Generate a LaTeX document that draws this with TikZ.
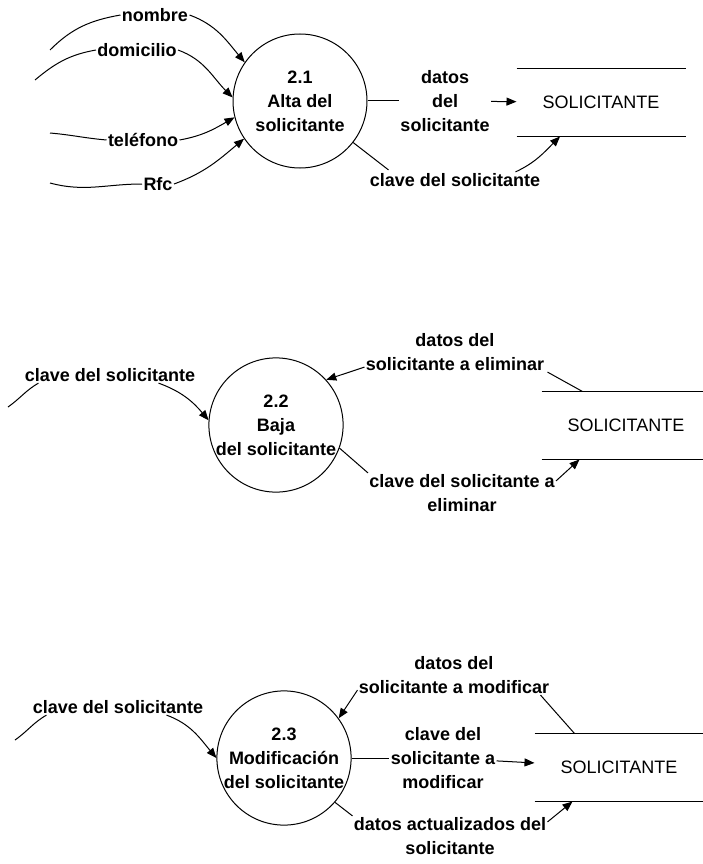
\documentclass[tikz,border=0pt]{standalone}
\usepackage{fontspec}
\setmainfont{Liberation Sans}
\usetikzlibrary{arrows.meta}

\begin{document}
\begin{tikzpicture}[
  x=1pt, y=1pt,
  line width=1pt,
  proc/.style={shape=circle, draw, minimum size=134pt, inner sep=0pt, align=center,
    font=\bfseries\fontsize{18}{24}\selectfont},
  lbl/.style={align=center, inner sep=1pt, font=\bfseries\fontsize{18}{24}\selectfont},
  store/.style={minimum width=168pt, minimum height=67pt, inner sep=0pt,
    font=\fontsize{18}{22}\selectfont},
  flow/.style={-{Triangle[length=10pt,width=8pt]}}
]
  \useasboundingbox (0,0) rectangle (702,-864);

  % 2.1 Alta
  \node[proc] (p1) at (300,-101) {2.1\\Alta del\\solicitante};
  \node[lbl] (nombre) at (155,-15) {nombre};
  \node[lbl] (domicilio) at (137,-50) {domicilio};
  \node[lbl] (telefono) at (143,-140) {teléfono};
  \node[lbl] (rfc) at (158,-184) {Rfc};
  \coordinate (a1) at (50,-50);
  \coordinate (a2) at (35,-80);
  \coordinate (a3) at (50,-133);
  \coordinate (a4) at (50,-183);
  \draw (a1) to[out=45,in=190] (nombre.west);
  \draw[flow] (nombre.east) to[out=-20,in=130] (p1.145);
  \draw (a2) to[out=40,in=190] (domicilio.west);
  \draw[flow] (domicilio.east) to[out=-20,in=135] (p1.177);
  \draw (a3) to[out=-5,in=175] (telefono.west);
  \draw[flow] (telefono.east) to[out=10,in=210] (p1.194);
  \draw (a4) to[out=-15,in=180] (rfc.west);
  \draw[flow] (rfc.east) to[out=20,in=220] (p1.214);

  \node[lbl] (d1) at (445,-101) {datos\\del\\solicitante};
  \node[store] (s1) at (601,-102.5) {SOLICITANTE};
  \draw (s1.north west) -- (s1.north east) (s1.south west) -- (s1.south east);
  \draw (p1) -- (d1);
  \draw[flow] (d1) -- (s1);
  \node[lbl] (k1) at (455,-180) {clave del solicitante};
  \draw (p1.-38) -- ([xshift=20pt,yshift=2pt]k1.north west);
  \draw[flow] ([xshift=-26pt]k1.north east) to[out=25,in=225] ([xshift=-41pt]s1.south);

  % 2.2 Baja
  \node[proc] (p2) at (276,-425) {2.2\\Baja\\del solicitante};
  \node[lbl] (c2) at (110,-375) {clave del solicitante};
  \coordinate (b1) at (8,-407);
  \draw (b1) to[out=35,in=210] ([xshift=15pt]c2.south west);
  \draw[flow] ([xshift=-38pt]c2.south east) to[out=-20,in=130] (p2.176);
  \node[lbl] (e2) at (455,-352) {datos del\\solicitante a eliminar};
  \draw[flow] ([yshift=5pt]e2.south west) -- (p2.42);
  \node[store] (s2) at (626,-425.5) {SOLICITANTE};
  \draw (s2.north west) -- (s2.north east) (s2.south west) -- (s2.south east);
  \draw ([xshift=2pt]e2.south east) -- ([xshift=41pt]s2.north west);
  \node[lbl] (k2) at (462,-493) {clave del solicitante a\\eliminar};
  \draw (p2.-20) -- (k2.north west);
  \draw[flow] ([yshift=-8pt]k2.north east) -- ([xshift=38pt]s2.south west);

  % 2.3 Modificacion
  \node[proc] (p3) at (284,-758) {2.3\\Modificación\\del solicitante};
  \node[lbl] (c3) at (118,-707) {clave del solicitante};
  \coordinate (b2) at (15,-740);
  \draw (b2) to[out=35,in=210] ([xshift=15pt]c3.south west);
  \draw[flow] ([xshift=-38pt]c3.south east) to[out=-20,in=130] (p3.west);
  \node[lbl] (e3) at (454,-675) {datos del\\solicitante a modificar};
  \draw[flow] ([yshift=5pt]e3.south west) -- (p3.36);
  \node[store] (s3) at (619,-767.5) {SOLICITANTE};
  \draw (s3.north west) -- (s3.north east) (s3.south west) -- (s3.south east);
  \draw ([xshift=-10pt]e3.south east) -- ([xshift=40pt]s3.north west);
  \node[lbl] (m3) at (443,-758) {clave del\\solicitante a\\modificar};
  \draw (p3) -- (m3);
  \draw[flow] (m3) -- (s3);
  \node[lbl] (u3) at (450,-836) {datos actualizados del\\solicitante};
  \draw (p3.-41) -- (u3.north west);
  \draw[flow] ([yshift=-6pt]u3.north east) -- ([xshift=38pt]s3.south west);
\end{tikzpicture}
\end{document}
